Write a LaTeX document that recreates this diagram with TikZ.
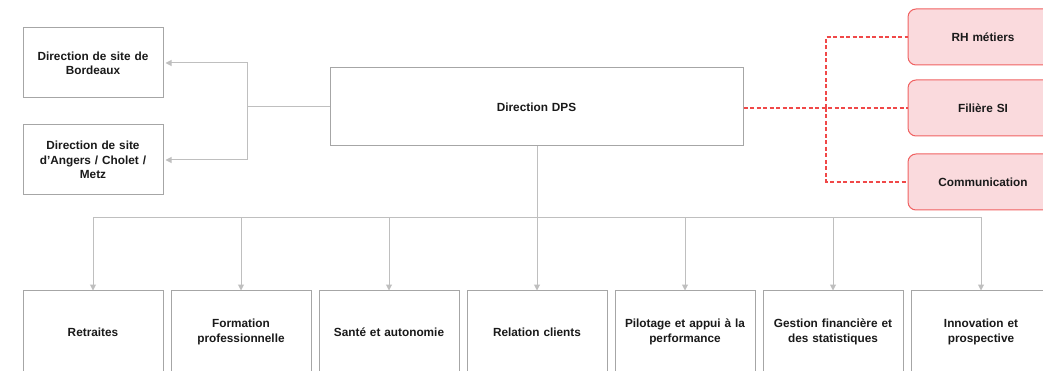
\documentclass[tikz,border=0pt]{standalone}
\usepackage{fontspec}
\setmainfont{Liberation Sans}
\usetikzlibrary{arrows.meta}
\definecolor{boxline}{HTML}{A6A6A6}
\definecolor{linkgray}{HTML}{BFBFBF}
\definecolor{linkred}{HTML}{F04848}
\definecolor{pinkfill}{HTML}{FADADD}
\definecolor{pinkline}{HTML}{F06262}
\definecolor{labeltext}{HTML}{1A1A1A}
\begin{document}
\begin{tikzpicture}[x=1pt,y=-1pt,
  unit/.style={draw=boxline,line width=1pt,fill=white,align=center,
    text width=126pt,minimum width=140pt,inner sep=0pt,text=labeltext,
    font=\fontsize{11.8}{14.3}\selectfont\bfseries},
  topunit/.style={unit,minimum width=413pt,minimum height=78pt,text width=300pt},
  sideunit/.style={unit,minimum height=70pt},
  deptunit/.style={unit,minimum height=84pt},
  transverse/.style={unit,draw=pinkline,fill=pinkfill,rounded corners=8pt,
    minimum width=150pt,minimum height=56pt},
  link/.style={draw=linkgray,line width=1pt},
  linkarrow/.style={link,-{Triangle[length=6pt,width=6pt]}},
  redlink/.style={draw=linkred,line width=1.1pt,dash pattern=on 4pt off 2.5pt}]
\useasboundingbox (0,0) rectangle (1043,371);

% top level
\node[topunit] (dps) at (536.5,107) {Direction DPS};

% site directions
\node[sideunit] (bdx) at (93,63) {Direction de site de\\Bordeaux};
\node[sideunit] (acm) at (93,160) {Direction de site\\d’Angers / Cholet /\\Metz};

% transverse functions
\node[transverse] (rh) at (983,37) {RH métiers};
\node[transverse] (si) at (983,108) {Filière SI};
\node[transverse] (com) at (983,182) {Communication};

% departments
\node[deptunit] (d1) at (93,332) {Retraites};
\node[deptunit] (d2) at (241,332) {Formation\\professionnelle};
\node[deptunit] (d3) at (389,332) {Santé et autonomie};
\node[deptunit] (d4) at (537,332) {Relation clients};
\node[deptunit] (d5) at (685,332) {Pilotage et appui à la\\performance};
\node[deptunit] (d6) at (833,332) {Gestion financière et\\des statistiques};
\node[deptunit] (d7) at (981,332) {Innovation et\\prospective};

% junction points
\coordinate (lj) at (247,107);
\coordinate (bj) at (537,218);
\coordinate (rj) at (826,108);

% links to the site directions
\draw[link] (dps.west) -- (lj);
\draw[linkarrow] (lj) |- ([xshift=2pt]bdx.east);
\draw[linkarrow] (lj) |- ([xshift=2pt]acm.east);

% links to the departments
\draw[link] (dps.south -| bj) -- (bj);
\foreach \d in {d1,d2,d3,d4,d5,d6,d7}
  \draw[linkarrow] (bj) -| ([yshift=-1pt]\d.north);

% dashed links to the transverse functions
\draw[redlink] (dps.east |- rj) -- (si.west);
\draw[redlink] (rj) |- (rh.west);
\draw[redlink] (rj) |- (com.west);
\end{tikzpicture}
\end{document}
